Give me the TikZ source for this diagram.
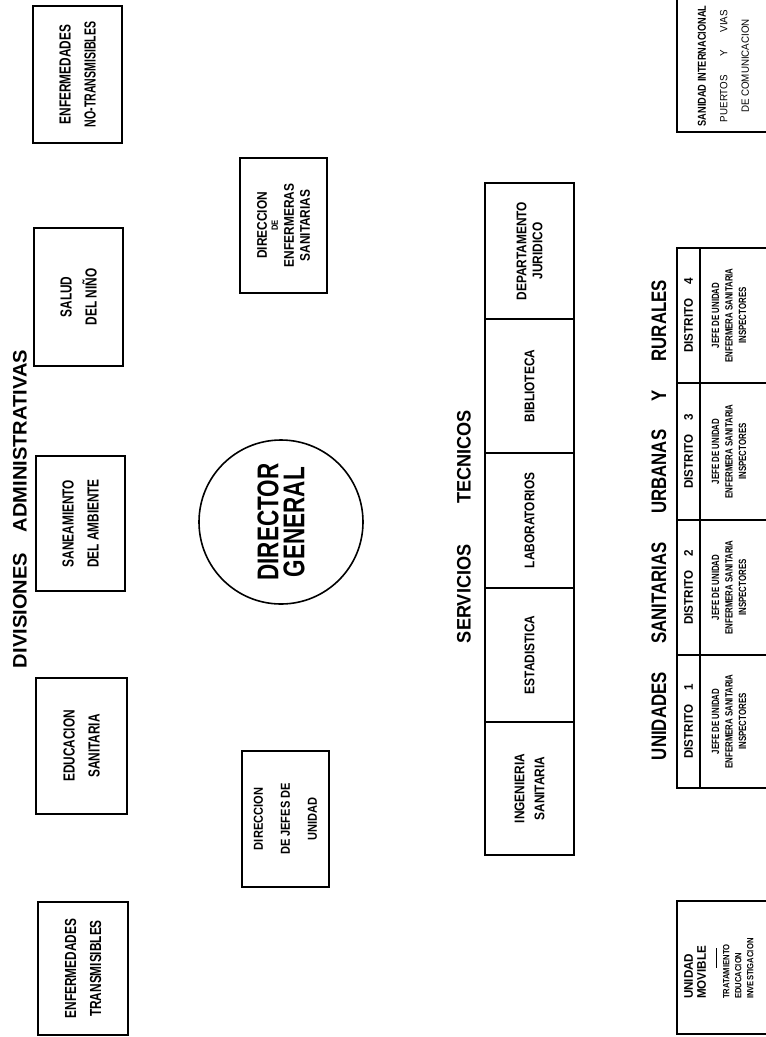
\documentclass[tikz,border=0pt]{standalone}
\usepackage{fontspec}
\setmainfont{Liberation Sans}
\newfontfamily\fsT[FakeStretch=1.03]{Liberation Sans}
\newfontfamily\fsB[FakeStretch=0.93]{Liberation Sans}
\newfontfamily\fsC[FakeStretch=0.85]{Liberation Sans}
\newfontfamily\fsD[FakeStretch=0.80]{Liberation Sans}
\newfontfamily\fsE[FakeStretch=0.75]{Liberation Sans}
\newfontfamily\fsF[FakeStretch=0.74]{Liberation Sans}
\newfontfamily\fsG[FakeStretch=0.66]{Liberation Sans}
\begin{document}
\begin{tikzpicture}[x=1pt,y=-1pt,
  frame/.style={draw, line width=1.5pt, rotate=90, align=center, inner sep=0pt},
  btext/.style={font=\fsF\bfseries\fontsize{16}{25}\selectfont},
  ctext/.style={font=\fsC\bfseries\fontsize{14}{16}\selectfont},
  title/.style={rotate=90, inner sep=0pt},
  vtext/.style={rotate=90, align=center, inner sep=0pt},
  distext/.style={vtext, font=\fsE\bfseries\fontsize{10.5}{13.5}\selectfont},
  dishead/.style={frame, minimum height=23pt, font=\fsB\bfseries\fontsize{12.5}{13}\selectfont},
  discell/.style={frame, minimum height=80pt},
]
\useasboundingbox (0,0) rectangle (766,1037);
\fill[white] (0,0) rectangle (766,1037);
\clip (0,0) rectangle (766,1037);

% ---- Divisiones administrativas
\node[title, font=\fsT\bfseries\fontsize{19.5}{20}\selectfont] (tdiv) at (20,509)
  {\makebox[318pt][s]{DIVISIONES ADMINISTRATIVAS}};
\node[frame, btext, minimum width=137pt, minimum height=89pt] (enfnt) at (77.5,74.5)
  {ENFERMEDADES\\{\fsG NO-TRANSMISIBLES}};
\node[frame, btext, minimum width=138pt, minimum height=89pt] (salud) at (78.5,297)
  {SALUD\\DEL NIÑO};
\node[frame, btext, minimum width=135pt, minimum height=89pt] (saneam) at (80.5,523.5)
  {SANEAMIENTO\\DEL AMBIENTE};
\node[frame, btext, minimum width=136pt, minimum height=91pt] (educ) at (81.5,746)
  {EDUCACION\\SANITARIA};
\node[frame, btext, minimum width=133pt, minimum height=90pt] (enft) at (83,968.5)
  {ENFERMEDADES\\TRANSMISIBLES};

% ---- Direcciones
\node[frame, font=\fsC\bfseries\fontsize{14}{16}\selectfont, minimum width=135pt, minimum height=87pt] (direnf) at (283.5,225.5)
  {DIRECCION\\[-5pt]{\fontsize{9}{9}\selectfont DE}\\ENFERMERAS\\SANITARIAS};
\node[frame, font=\fsC\bfseries\fontsize{13}{27}\selectfont, minimum width=136pt, minimum height=87pt] (dirjef) at (285.5,819)
  {DIRECCION\\DE JEFES DE\\UNIDAD};

% ---- Director general
\node[circle, draw, line width=1.6pt, minimum size=164pt, rotate=90, align=center, inner sep=0pt,
  font=\fsE\bfseries\fontsize{30}{26}\selectfont] (dg) at (281,522) {DIRECTOR\\GENERAL};

% ---- Servicios tecnicos
\node[title, font=\fsB\bfseries\fontsize{19.5}{20}\selectfont] (tserv) at (464,526.5)
  {\makebox[233pt][s]{SERVICIOS TECNICOS}};
\node[frame, ctext, minimum width=136pt, minimum height=89pt] (dj) at (529.5,251)
  {DEPARTAMENTO\\JURIDICO};
\node[frame, ctext, minimum width=134pt, minimum height=89pt] (bib) at (529.5,386)
  {BIBLIOTECA};
\node[frame, ctext, minimum width=135pt, minimum height=89pt] (lab) at (529.5,520.5)
  {LABORATORIOS};
\node[frame, ctext, minimum width=134pt, minimum height=89pt] (est) at (529.5,655)
  {ESTADISTICA};
\node[frame, font=\fsC\bfseries\fontsize{14}{20}\selectfont, minimum width=133pt, minimum height=89pt] (ing) at (529.5,788.5)
  {INGENIERIA\\SANITARIA};

% ---- Unidades sanitarias
\node[title, font=\fsD\bfseries\fontsize{21}{22}\selectfont] (tuni) at (659,520)
  {\makebox[480pt][s]{UNIDADES SANITARIAS URBANAS Y RURALES}};
\node[dishead, minimum width=133pt] (h1) at (688.5,721.5) {DISTRITO\hspace{14pt}1};
\node[dishead, minimum width=135pt] (h2) at (688.5,587.5) {DISTRITO\hspace{14pt}2};
\node[dishead, minimum width=137pt] (h3) at (688.5,451.5) {DISTRITO\hspace{14pt}3};
\node[dishead, minimum width=135pt] (h4) at (688.5,315.5) {DISTRITO\hspace{14pt}4};
\node[discell, minimum width=133pt] (c1) at (740,721.5) {};
\node[discell, minimum width=135pt] (c2) at (740,587.5) {};
\node[discell, minimum width=137pt] (c3) at (740,451.5) {};
\node[discell, minimum width=135pt] (c4) at (740,315.5) {};
\node[distext] (t1) at (729,721.5) {JEFE DE UNIDAD\\ENFERMERA SANITARIA\\INSPECTORES};
\node[distext] (t2) at (729,587.5) {JEFE DE UNIDAD\\ENFERMERA SANITARIA\\INSPECTORES};
\node[distext] (t3) at (729,451.5) {JEFE DE UNIDAD\\ENFERMERA SANITARIA\\INSPECTORES};
\node[distext] (t4) at (729,315.5) {JEFE DE UNIDAD\\ENFERMERA SANITARIA\\INSPECTORES};

% ---- Sanidad internacional
\node[frame, minimum width=142pt, minimum height=103pt] (sanb) at (728.5,61) {};
\node[vtext, font=\fsD\bfseries\fontsize{11.5}{21.5}\selectfont] (sant) at (723.5,66)
  {SANIDAD INTERNACIONAL\\{\fsB\mdseries\fontsize{10.5}{21.5}\selectfont\makebox[112pt][s]{PUERTOS Y VIAS}}\\{\fsB\mdseries\fontsize{10.5}{21.5}\selectfont DE COMUNICACION}};

% ---- Unidad movible
\node[frame, minimum width=133pt, minimum height=103pt] (movb) at (728.5,967.5) {};
\node[vtext, align=left, anchor=north west, font=\fsB\bfseries\fontsize{12.5}{13}\selectfont] (movt) at (684,999)
  {UNIDAD\\MOVIBLE};
\draw[line width=1pt] (716,948) -- (716,968);
\node[vtext, align=left, anchor=north west, font=\fsC\bfseries\fontsize{9}{12}\selectfont] (movs) at (723,999)
  {TRATAMIENTO\\EDUCACION\\INVESTIGACION};
\end{tikzpicture}
\end{document}
